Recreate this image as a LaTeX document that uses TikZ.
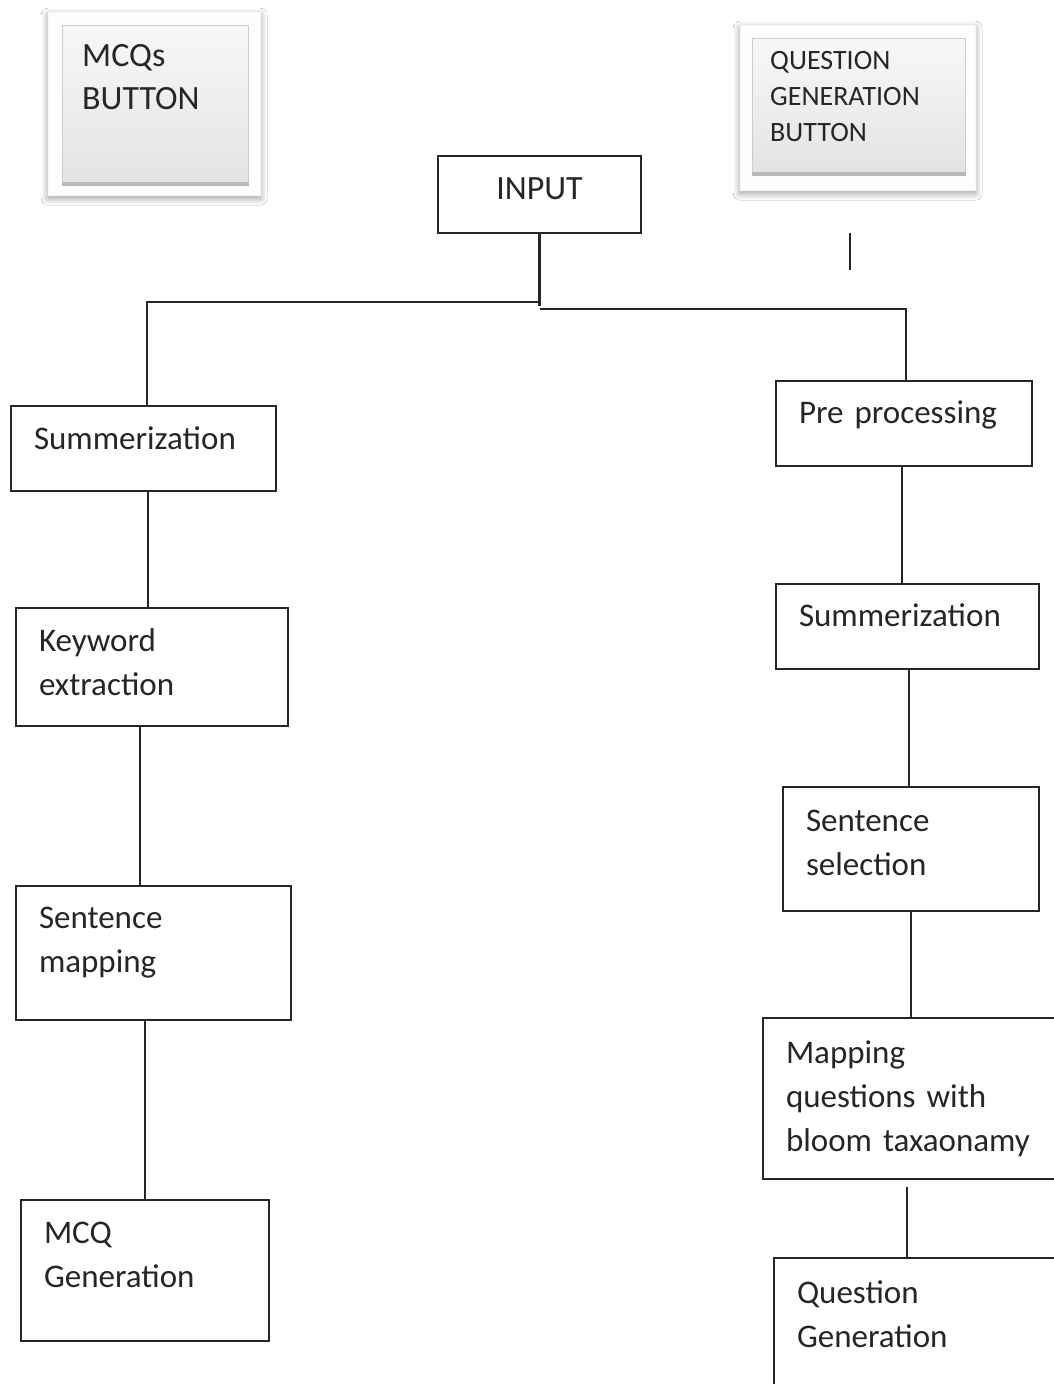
\documentclass[tikz,border=0pt]{standalone}
\usepackage{fontspec}
\setmainfont{Carlito}
\usetikzlibrary{positioning, calc, shadows.blur}
\definecolor{textgray}{HTML}{262626}
\definecolor{btnframe}{HTML}{FDFDFD}

\begin{document}
\begin{tikzpicture}[
  x=1pt, y=-1pt,
  every node/.style={text=textgray},
  stepbox/.style={rectangle, draw=black!85, line width=2pt, fill=white,
                  anchor=north west, align=left, inner xsep=23pt, inner ysep=4pt,
                  font=\fontsize{33}{44}\selectfont},
  inbox/.style={rectangle, draw=black!85, line width=2pt, fill=white,
                anchor=north west, align=center, font=\fontsize{34}{40}\selectfont},
  btnframe/.style={rectangle, fill=btnframe, draw=gray!8, anchor=north west,
                   blur shadow={shadow blur steps=12, shadow blur radius=7pt,
                   shadow xshift=0pt, shadow yshift=-3pt, shadow opacity=40}},
  btnface/.style={rectangle, anchor=north west, top color=gray!6, bottom color=gray!22,
                  draw=gray!40, line width=0.8pt},
  btntext/.style={anchor=north west, align=left, inner sep=0pt},
  link/.style={draw=black!85, line width=2pt},
]
  \useasboundingbox (0,0) rectangle (1054,1384);
  \clip (0,0) rectangle (1054,1384);
  \fill[white] (0,0) rectangle (1054,1384);

  % buttons
  \node[btnframe, minimum width=212pt, minimum height=183pt] (mcqframe) at (48,12) {};
  \node[btnface, minimum width=186pt, minimum height=160pt] (mcqface) at (62,25) {};
  \draw[gray!55, line width=4pt] ([yshift=2pt]mcqface.south west) -- ([yshift=2pt]mcqface.south east);
  \node[btntext, font=\fontsize{34}{43}\selectfont] (mcqlabel) at (82,44) {MCQs\\BUTTON};

  \node[btnframe, minimum width=235pt, minimum height=165pt] (qgframe) at (740,25) {};
  \node[btnface, minimum width=213pt, minimum height=137pt] (qgface) at (752,38) {};
  \draw[gray!55, line width=4pt] ([yshift=2pt]qgface.south west) -- ([yshift=2pt]qgface.south east);
  \node[btntext, font=\fontsize{28}{36}\selectfont] (qglabel) at (770,51) {QUESTION\\GENERATION\\BUTTON};
  \draw[link] ([xshift=-7.5pt, yshift=-43pt]qgframe.south) -- ++(0,37);

  % input
  \node[inbox, minimum width=203pt, minimum height=77pt, text depth=12pt] (input) at (437,155) {INPUT};

  % left branch
  \node[stepbox, minimum width=265pt, minimum height=85pt, text width=219pt, text depth=20pt] (summl) at (10,405) {Summerization};
  \node[stepbox, minimum width=272pt, minimum height=118pt, text width=226pt, text depth=54pt] (keyw) at (15,607) {Keyword\\extraction};
  \node[stepbox, minimum width=275pt, minimum height=134pt, text width=229pt, text depth=71pt] (smap) at (15,885) {Sentence\\mapping};
  \node[stepbox, minimum width=248pt, minimum height=141pt, text width=202pt, text depth=76pt] (mcqgen) at (20,1199) {MCQ\\Generation};

  % right branch
  \node[stepbox, minimum width=256pt, minimum height=85pt, text width=210pt, text depth=23pt] (prep) at (775,380) {Pre processing};
  \node[stepbox, minimum width=263pt, minimum height=85pt, text width=217pt, text depth=22pt] (summr) at (775,583) {Summerization};
  \node[stepbox, minimum width=256pt, minimum height=124pt, text width=210pt, text depth=56pt] (ssel) at (782,786) {Sentence\\selection};
  \node[stepbox, minimum width=300pt, minimum height=161pt, text width=254pt] (mapq) at (762,1017) {Mapping\\questions with\\bloom taxaonamy};
  \node[stepbox, minimum width=290pt, text width=244pt, text height=41pt, text depth=150pt] (qgen) at (773,1257) {Question\\Generation};

  % connectors
  \draw[link, line width=2.8pt] (input.south) -- ++(0,72);
  \draw[link] ([yshift=-68pt]input.south) -| ([xshift=3.5pt]summl.north);
  \draw[link] ([yshift=-75pt]input.south) -| ([xshift=2pt]prep.north);

  \draw[link] ([xshift=4.5pt]summl.south) -- ([xshift=4.5pt]summl.south |- keyw.north);
  \draw[link] ([xshift=-12pt]keyw.south) -- ([xshift=-12pt]keyw.south |- smap.north);
  \draw[link] ([xshift=-8.5pt]smap.south) -- ([xshift=-8.5pt]smap.south |- mcqgen.north);

  \draw[link] ([xshift=-2pt]prep.south) -- ([xshift=-2pt]prep.south |- summr.north);
  \draw[link] ([xshift=1.5pt]summr.south) -- ([xshift=1.5pt]summr.south |- ssel.north);
  \draw[link] (ssel.south) -- (ssel.south |- mapq.north);
  \draw[link, shorten <=7pt] ([xshift=-6pt]mapq.south) -- ([xshift=-6pt]mapq.south |- qgen.north);
\end{tikzpicture}
\end{document}
